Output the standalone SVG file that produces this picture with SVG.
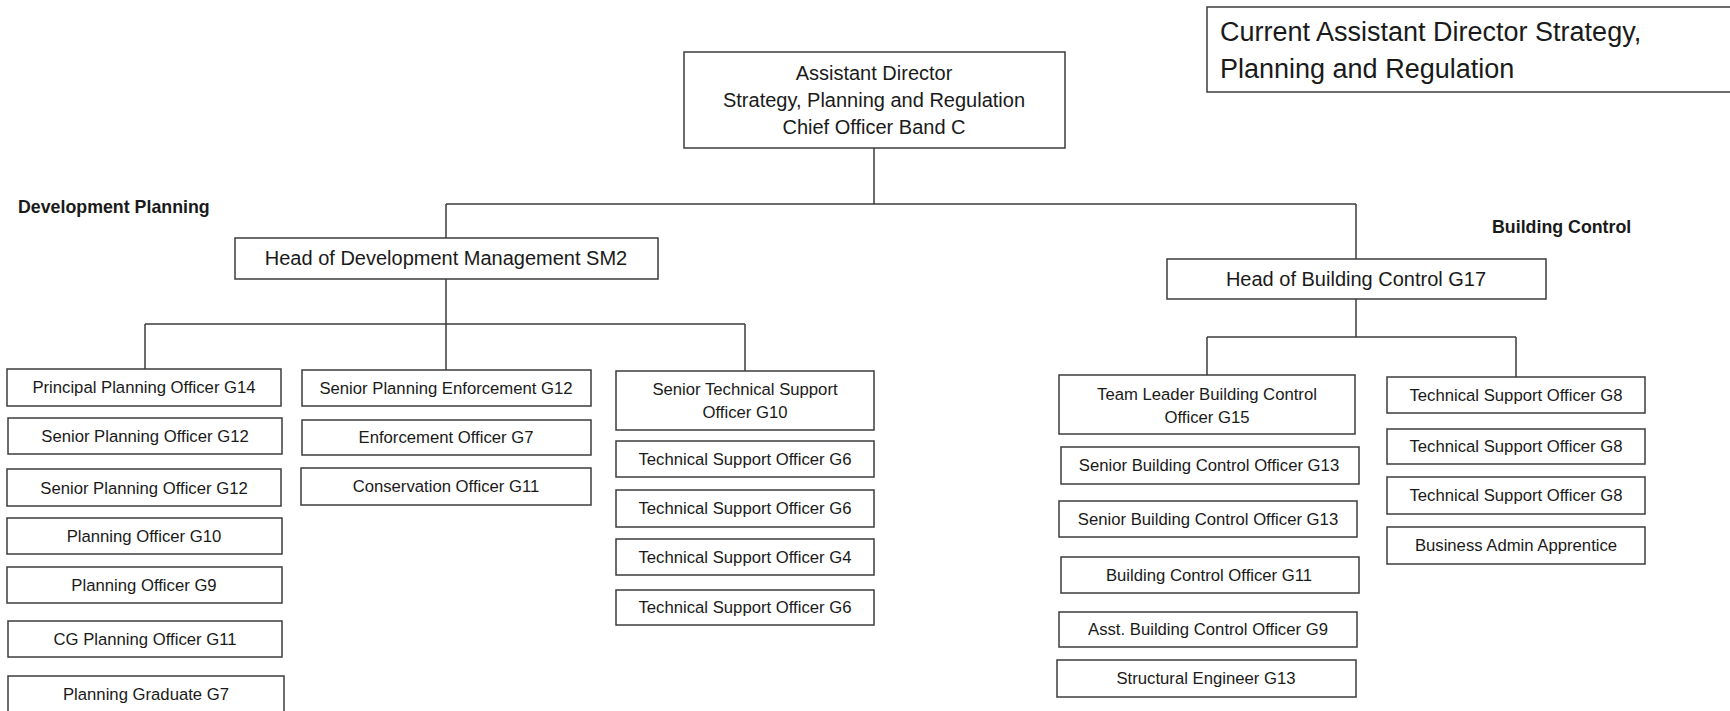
<svg xmlns="http://www.w3.org/2000/svg" width="1730" height="711" viewBox="0 0 1730 711">
<style>
rect.b{fill:#fff;stroke:#3c3c3c;stroke-width:1.5}
text{font-family:"Liberation Sans",Arial,sans-serif;fill:#1a1a1a}
.s{font-size:16.7px;text-anchor:middle}
.m{font-size:20px;text-anchor:middle}
.l{font-size:27px}
.h{font-size:17.8px;font-weight:bold}
#connectors path{fill:none;stroke:#3c3c3c;stroke-width:1.5}
</style>
<rect width="1730" height="711" fill="#fff"/>
<g id="connectors">
<path d="M874 148V204M446 204H1356M446 204V238M1356 204V259"/>
<path d="M446 279V324M145 324H745M145 324V369M446 324V370M745 324V371"/>
<path d="M1356 299V337M1207 337H1516M1207 337V375M1516 337V377"/>
</g>
<g id="label-current"><rect class="b" x="1207" y="7" width="540" height="85"/><text class="l" x="1220" y="41">Current Assistant Director Strategy,</text><text class="l" x="1220" y="78">Planning and Regulation</text></g>
<g id="label-dev"><text class="h" x="18" y="213">Development Planning</text></g>
<g id="label-bc"><text class="h" x="1492" y="233">Building Control</text></g>
<g id="ad"><rect class="b" x="684" y="52" width="381" height="96"/><text class="m" x="874" y="80">Assistant Director</text><text class="m" x="874" y="107">Strategy, Planning and Regulation</text><text class="m" x="874" y="134">Chief Officer Band C</text></g>
<g id="hdm"><rect class="b" x="235" y="238" width="423" height="41"/><text class="m" x="446" y="265">Head of Development Management SM2</text></g>
<g id="hbc"><rect class="b" x="1167" y="259" width="379" height="40"/><text class="m" x="1356" y="286">Head of Building Control G17</text></g>
<g id="n1"><rect class="b" x="7" y="369" width="274" height="37"/><text class="s" x="144" y="393">Principal Planning Officer G14</text></g>
<g id="n2"><rect class="b" x="8" y="418" width="274" height="36"/><text class="s" x="145" y="442">Senior Planning Officer G12</text></g>
<g id="n3"><rect class="b" x="7" y="469" width="274" height="37"/><text class="s" x="144" y="494">Senior Planning Officer G12</text></g>
<g id="n4"><rect class="b" x="7" y="518" width="275" height="36"/><text class="s" x="144" y="542">Planning Officer G10</text></g>
<g id="n5"><rect class="b" x="7" y="567" width="275" height="36"/><text class="s" x="144" y="591">Planning Officer G9</text></g>
<g id="n6"><rect class="b" x="8" y="621" width="274" height="36"/><text class="s" x="145" y="645">CG Planning Officer G11</text></g>
<g id="n7"><rect class="b" x="8" y="676" width="276" height="37"/><text class="s" x="146" y="700">Planning Graduate G7</text></g>
<g id="n8"><rect class="b" x="302" y="370" width="289" height="36"/><text class="s" x="446" y="394">Senior Planning Enforcement G12</text></g>
<g id="n9"><rect class="b" x="302" y="420" width="289" height="35"/><text class="s" x="446" y="443">Enforcement Officer G7</text></g>
<g id="n10"><rect class="b" x="301" y="468" width="290" height="37"/><text class="s" x="446" y="492">Conservation Officer G11</text></g>
<g id="n11"><rect class="b" x="616" y="371" width="258" height="59"/><text class="s" x="745" y="395">Senior Technical Support</text><text class="s" x="745" y="418">Officer G10</text></g>
<g id="n12"><rect class="b" x="616" y="441" width="258" height="36"/><text class="s" x="745" y="465">Technical Support Officer G6</text></g>
<g id="n13"><rect class="b" x="616" y="490" width="258" height="37"/><text class="s" x="745" y="514">Technical Support Officer G6</text></g>
<g id="n14"><rect class="b" x="616" y="539" width="258" height="36"/><text class="s" x="745" y="563">Technical Support Officer G4</text></g>
<g id="n15"><rect class="b" x="616" y="590" width="258" height="35"/><text class="s" x="745" y="613">Technical Support Officer G6</text></g>
<g id="n16"><rect class="b" x="1059" y="375" width="296" height="59"/><text class="s" x="1207" y="400">Team Leader Building Control</text><text class="s" x="1207" y="423">Officer G15</text></g>
<g id="n17"><rect class="b" x="1061" y="447" width="298" height="37"/><text class="s" x="1209" y="471">Senior Building Control Officer G13</text></g>
<g id="n18"><rect class="b" x="1059" y="501" width="298" height="36"/><text class="s" x="1208" y="525">Senior Building Control Officer G13</text></g>
<g id="n19"><rect class="b" x="1061" y="557" width="298" height="36"/><text class="s" x="1209" y="581">Building Control Officer G11</text></g>
<g id="n20"><rect class="b" x="1059" y="612" width="298" height="35"/><text class="s" x="1208" y="635">Asst. Building Control Officer G9</text></g>
<g id="n21"><rect class="b" x="1057" y="660" width="299" height="37"/><text class="s" x="1206" y="684">Structural Engineer G13</text></g>
<g id="n22"><rect class="b" x="1387" y="377" width="258" height="36"/><text class="s" x="1516" y="401">Technical Support Officer G8</text></g>
<g id="n23"><rect class="b" x="1387" y="429" width="258" height="35"/><text class="s" x="1516" y="452">Technical Support Officer G8</text></g>
<g id="n24"><rect class="b" x="1387" y="477" width="258" height="37"/><text class="s" x="1516" y="501">Technical Support Officer G8</text></g>
<g id="n25"><rect class="b" x="1387" y="527" width="258" height="37"/><text class="s" x="1516" y="551">Business Admin Apprentice</text></g>
</svg>
